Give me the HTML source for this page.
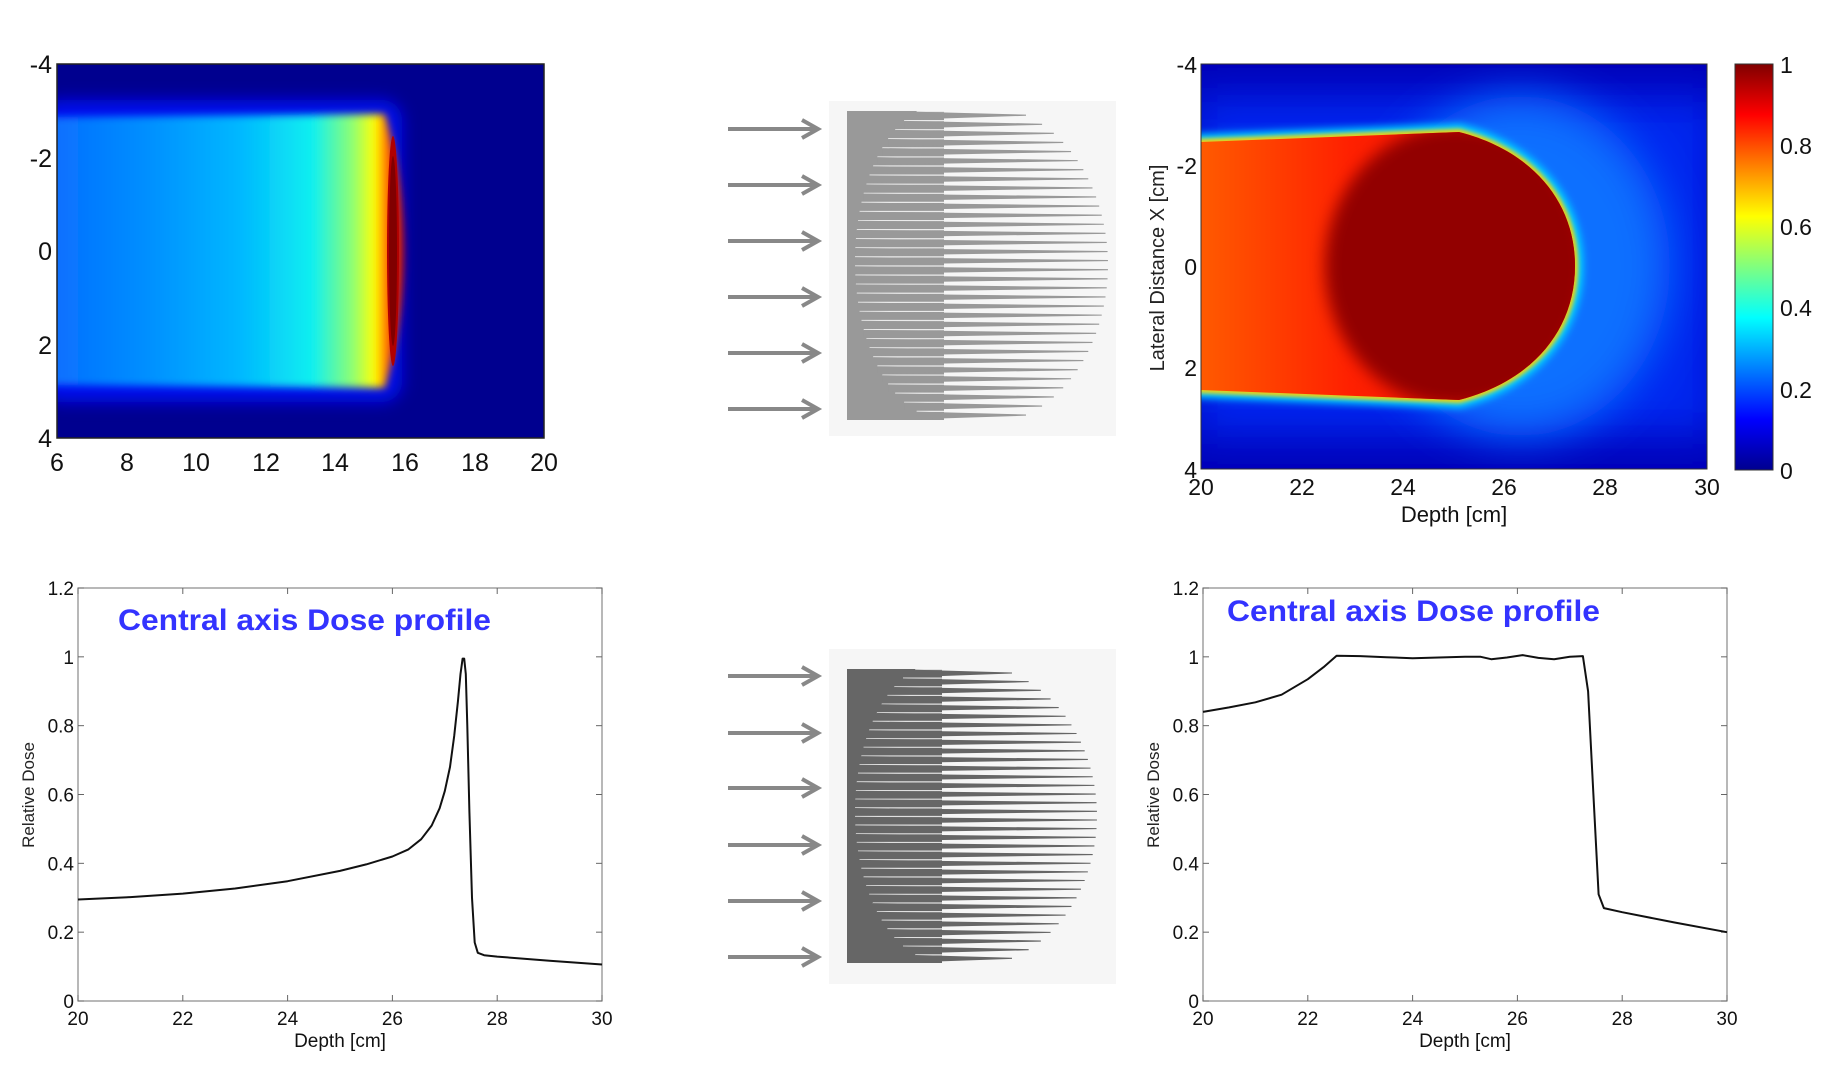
<!DOCTYPE html>
<html><head><meta charset="utf-8"><style>
html,body{margin:0;padding:0;background:#fff;}
svg{display:block;}
.t{font-family:"Liberation Sans Narrow","Liberation Sans",sans-serif;fill:#111;}
.l{font-family:"Liberation Sans",sans-serif;fill:#222;}
.ti{font-family:"Liberation Sans",sans-serif;font-weight:bold;fill:#3333ff;}
</style></head><body>
<svg id="s" width="1848" height="1090" xmlns="http://www.w3.org/2000/svg">
<defs>
<filter id="b4" x="-20%" y="-20%" width="140%" height="140%"><feGaussianBlur stdDeviation="4"/></filter>
<filter id="b8" x="-30%" y="-30%" width="160%" height="160%"><feGaussianBlur stdDeviation="8"/></filter>
<filter id="b20" x="-50%" y="-50%" width="200%" height="200%"><feGaussianBlur stdDeviation="22"/></filter>
<filter id="b2"><feGaussianBlur stdDeviation="2"/></filter>
<linearGradient id="beam1" x1="0" x2="1" y1="0" y2="0">
<stop offset="0" stop-color="#0a6aff"/><stop offset="0.3" stop-color="#0090ff"/><stop offset="0.55" stop-color="#00b8ff"/>
<stop offset="0.75" stop-color="#10f0f0"/><stop offset="0.86" stop-color="#90ff70"/><stop offset="0.92" stop-color="#ffff00"/>
<stop offset="0.96" stop-color="#ff5000"/><stop offset="1" stop-color="#c00000"/></linearGradient>
<linearGradient id="beam2" x1="0" x2="1" y1="0" y2="0">
<stop offset="0" stop-color="#ff5a00"/><stop offset="0.4" stop-color="#ff2000"/><stop offset="1" stop-color="#e00000"/></linearGradient>
<linearGradient id="jet" x1="0" x2="0" y1="1" y2="0">
<stop offset="0" stop-color="#00008f"/><stop offset="0.125" stop-color="#0000ff"/><stop offset="0.375" stop-color="#00ffff"/>
<stop offset="0.625" stop-color="#ffff00"/><stop offset="0.875" stop-color="#ff0000"/><stop offset="1" stop-color="#800000"/></linearGradient>
<clipPath id="c1"><rect x="57" y="64" width="487" height="374"/></clipPath>
<clipPath id="c2"><rect x="1201" y="64" width="506" height="405"/></clipPath>
<clipPath id="bp"><path d="M1201 142 L1459 132 C1530 150 1575 200 1575 266 C1575 332 1530 382 1459 400 L1201 390 Z"/></clipPath>
</defs>

<!-- Top-left heatmap -->
<g clip-path="url(#c1)">
<rect x="57" y="64" width="487" height="374" fill="#00008f"/>
<rect x="40" y="100" width="362" height="302" fill="#0010f0" filter="url(#b8)" rx="20"/>
<path d="M40 117 L385 114 Q404 180 404 251 Q404 322 385 388 L40 385 Z" fill="url(#beam1)" filter="url(#b4)"/>
<ellipse cx="393" cy="251" rx="6" ry="115" fill="#b00000"/>
<ellipse cx="393" cy="251" rx="4" ry="95" fill="#800000"/>
</g>
<rect x="57" y="64" width="487" height="374" fill="none" stroke="#222" stroke-width="1.5"/>
<g class="t" font-size="25" text-anchor="end">
<text x="52" y="73">-4</text><text x="52" y="167">-2</text><text x="52" y="260">0</text><text x="52" y="354">2</text><text x="52" y="447">4</text></g>
<g class="t" font-size="25" text-anchor="middle">
<text x="57" y="471">6</text><text x="127" y="471">8</text><text x="196" y="471">10</text><text x="266" y="471">12</text>
<text x="335" y="471">14</text><text x="405" y="471">16</text><text x="475" y="471">18</text><text x="544" y="471">20</text></g>

<!-- Top-right heatmap -->
<g clip-path="url(#c2)">
<rect x="1201" y="64" width="506" height="405" fill="#0000b8"/>
<rect x="1190" y="95" width="530" height="342" fill="#0028f0" filter="url(#b20)"/>
<ellipse cx="1520" cy="266" rx="150" ry="170" fill="#0a70ff" filter="url(#b20)"/>
<path d="M1201 142 L1459 132 C1530 150 1575 200 1575 266 C1575 332 1530 382 1459 400 L1201 390 Z" fill="none" stroke="#00d8ff" stroke-width="16" filter="url(#b4)"/>
<path d="M1201 142 L1459 132 C1530 150 1575 200 1575 266 C1575 332 1530 382 1459 400 L1201 390 Z" fill="none" stroke="#ffd000" stroke-width="6" filter="url(#b2)"/>
<path d="M1201 142 L1459 132 C1530 150 1575 200 1575 266 C1575 332 1530 382 1459 400 L1201 390 Z" fill="url(#beam2)"/>
<g clip-path="url(#bp)"><ellipse cx="1455" cy="266" rx="130" ry="140" fill="#920000" filter="url(#b8)"/></g>
</g>
<rect x="1201" y="64" width="506" height="405" fill="none" stroke="#333" stroke-width="1"/>
<g class="t" font-size="23" text-anchor="end">
<text x="1197" y="73">-4</text><text x="1197" y="174">-2</text><text x="1197" y="275">0</text><text x="1197" y="376">2</text><text x="1197" y="478">4</text></g>
<g class="t" font-size="23" text-anchor="middle">
<text x="1201" y="495">20</text><text x="1302" y="495">22</text><text x="1403" y="495">24</text><text x="1504" y="495">26</text><text x="1605" y="495">28</text><text x="1707" y="495">30</text></g>
<text class="t" font-size="22" x="1454" y="522" text-anchor="middle">Depth [cm]</text>
<text class="l" font-size="20" transform="translate(1164,268) rotate(-90)" text-anchor="middle">Lateral Distance X [cm]</text>
<rect x="1735" y="64" width="38" height="406" fill="url(#jet)" stroke="#333" stroke-width="1"/>
<g class="t" font-size="23">
<text x="1780" y="73">1</text><text x="1780" y="154">0.8</text><text x="1780" y="235">0.6</text><text x="1780" y="316">0.4</text><text x="1780" y="398">0.2</text><text x="1780" y="479">0</text></g>

<!-- devices -->
<rect x="829" y="101" width="287" height="335" fill="#f6f6f6"/>
<rect x="829" y="649" width="287" height="335" fill="#f6f6f6"/>
<g id="dev"></g>
<g id="arr"></g>

<!-- bottom plots -->
<g id="plots"></g>
</svg>
<script>
var NS="http://www.w3.org/2000/svg",S=document.getElementById("s");
function el(t,a,p,txt){var e=document.createElementNS(NS,t);for(var k in a)e.setAttribute(k,a[k]);if(txt!=null)e.textContent=txt;(p||S).appendChild(e);return e;}
var ar=document.getElementById("arr");
[129,185,241,297,353,409,676,733,788,845,901,957].forEach(function(y){
 el("line",{x1:728,y1:y,x2:815,y2:y,stroke:"#888","stroke-width":4},ar);
 el("polyline",{points:"802,"+(y-9)+" 818,"+y+" 802,"+(y+9),fill:"none",stroke:"#888","stroke-width":4},ar);
});
function device(y0,y1,rx,col,tipC,tipTop){
 var g=document.getElementById("dev"),cy=(y0+y1)/2,h=(y1-y0)/2;
 el("rect",{x:847,y:y0,width:rx-847,height:y1-y0,fill:col},g);
 var n=34,p=(y1-y0)/n;
 var e=Math.sqrt(1-Math.pow((y0+0.5*p-cy)/(h*1.03),2));
 for(var i=0;i<n;i++){
  var ym=y0+(i+0.5)*p,t=(ym-cy)/(h*1.03);
  var s=Math.sqrt(Math.max(0,1-t*t));
  var ax=rx-(rx-855)*Math.sqrt(Math.max(0,1-Math.pow((ym-cy)/(h*1.02),2)));
  var tip=rx+(tipC-rx)*((s-e)/(1-e)*(1-(tipTop-rx)/(tipC-rx))+(tipTop-rx)/(tipC-rx));
  el("line",{x1:ax,y1:ym-p/2+0.5,x2:rx,y2:ym-p/2+0.5,stroke:"#fff","stroke-width":1.2,opacity:0.8},g);
  el("polygon",{points:ax+","+(ym-p*0.42)+" "+tip+","+(ym-p*0.1)+" "+tip+","+(ym+0.2)+" "+ax+","+(ym+p*0.42),fill:col},g);
 }
}
device(111,420,944,"#999",1108,1026);
device(669,963,942,"#666",1097,1012);
function plot(x0,pts,title,tx,ty){
 var g=document.getElementById("plots"),W=524,y0=588,y1=1001;
 function X(d){return x0+(d-20)*W/10;} function Y(v){return y1-v*(y1-y0)/1.2;}
 el("rect",{x:x0,y:y0,width:W,height:y1-y0,fill:"none",stroke:"#888","stroke-width":1.2},g);
 for(var d=20;d<=30;d+=2){var x=X(d);
  el("line",{x1:x,y1:y1,x2:x,y2:y1-6,stroke:"#666"},g);el("line",{x1:x,y1:y0,x2:x,y2:y0+6,stroke:"#666"},g);
  el("text",{x:x,y:1025,"class":"t","font-size":19,"text-anchor":"middle"},g,String(d));}
 var lab=["0","0.2","0.4","0.6","0.8","1","1.2"];
 for(var i=0;i<=6;i++){var y=Y(i*0.2);
  el("line",{x1:x0,y1:y,x2:x0+6,y2:y,stroke:"#666"},g);el("line",{x1:x0+W,y1:y,x2:x0+W-6,y2:y,stroke:"#666"},g);
  el("text",{x:x0-4,y:y+7,"class":"t","font-size":19,"text-anchor":"end"},g,lab[i]);}
 el("text",{x:X(25),y:1047,"class":"t","font-size":19,"text-anchor":"middle"},g,"Depth [cm]");
 el("text",{transform:"translate("+(x0-44)+",795) rotate(-90)","class":"l","font-size":17,"text-anchor":"middle"},g,"Relative Dose");
 el("polyline",{points:pts.map(function(q){return X(q[0]).toFixed(1)+","+Y(q[1]).toFixed(1);}).join(" "),fill:"none",stroke:"#111","stroke-width":2,"stroke-linejoin":"round"},g);
 el("text",{x:tx,y:ty,"class":"ti","font-size":30,textLength:373,lengthAdjust:"spacingAndGlyphs"},g,title);
}
plot(78,[[20,.295],[21,.302],[22,.312],[23,.327],[24,.348],[25,.378],[25.5,.397],[26,.42],[26.3,.44],[26.55,.47],[26.75,.51],[26.9,.56],[27.0,.61],[27.1,.68],[27.18,.77],[27.25,.87],[27.3,.95],[27.34,.995],[27.37,.995],[27.4,.95],[27.43,.8],[27.47,.55],[27.52,.3],[27.57,.17],[27.63,.14],[27.75,.133],[28,.129],[29,.117],[30,.106]],"Central axis Dose profile",118,630);
plot(1203,[[20,.84],[20.5,.853],[21,.868],[21.5,.89],[22,.935],[22.3,.97],[22.55,1.003],[23,1.002],[23.5,.999],[24,.996],[24.5,.998],[25,1.0],[25.3,1.0],[25.5,.993],[25.8,.998],[26.1,1.005],[26.4,.997],[26.7,.993],[27,1.0],[27.25,1.002],[27.35,.9],[27.45,.6],[27.55,.31],[27.65,.27],[28,.258],[29,.228],[30,.2]],"Central axis Dose profile",1227,621);
</script>
</body></html>
